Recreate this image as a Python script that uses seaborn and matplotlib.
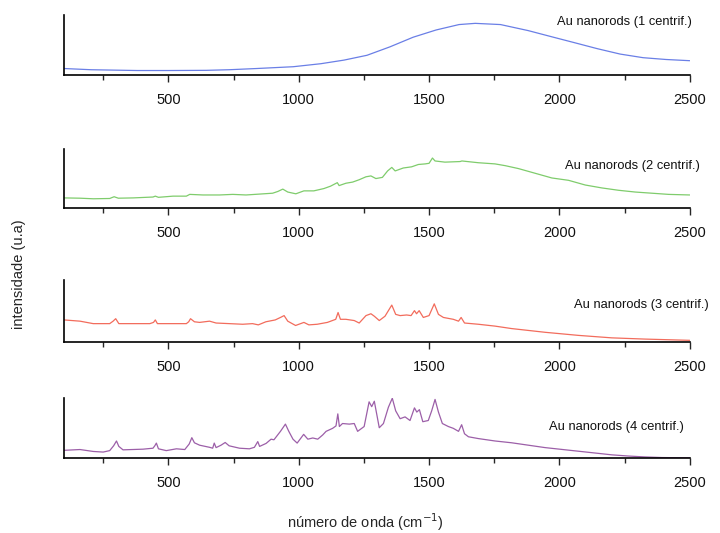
import seaborn as sns
import matplotlib.pyplot as plt
import pandas as pd

# spectra (intensity in arbitrary units, 0 = baseline of each panel)
x1 = [100, 204, 380, 500, 645, 733, 838, 979, 1085, 1174, 1262, 1350, 1439, 1527, 1615,
      1677, 1774, 1880, 1968, 2057, 2145, 2233, 2321, 2409, 2500]
y1 = [0.11, 0.09, 0.077, 0.077, 0.08, 0.09, 0.11, 0.14, 0.19, 0.25, 0.33, 0.47, 0.63, 0.75, 0.84,
      0.86, 0.84, 0.74, 0.64, 0.54, 0.44, 0.35, 0.29, 0.26, 0.24]

x2 = [100, 161, 212, 275, 292, 308, 365, 441, 450, 462, 518, 569, 582, 633, 696, 747, 798, 849,
      900, 920, 939, 958, 989, 1020, 1058, 1097, 1122, 1148, 1155, 1181, 1207, 1232, 1258, 1277,
      1296, 1321, 1341, 1357, 1370, 1401, 1433, 1459, 1485, 1500, 1513, 1523, 1561, 1619, 1626,
      1689, 1753, 1792, 1843, 1907, 1971, 2035, 2099, 2163, 2227, 2291, 2355, 2419, 2500]
y2 = [0.17, 0.165, 0.155, 0.16, 0.19, 0.165, 0.17, 0.185, 0.2, 0.18, 0.2, 0.2, 0.23, 0.22, 0.22,
      0.23, 0.22, 0.235, 0.25, 0.28, 0.32, 0.27, 0.24, 0.29, 0.29, 0.33, 0.37, 0.43, 0.38, 0.42,
      0.44, 0.48, 0.53, 0.545, 0.5, 0.52, 0.63, 0.69, 0.63, 0.68, 0.7, 0.74, 0.75, 0.76, 0.85,
      0.8, 0.78, 0.79, 0.8, 0.77, 0.75, 0.72, 0.67, 0.59, 0.51, 0.47, 0.39, 0.34, 0.3, 0.27,
      0.25, 0.23, 0.22]

x3 = [100, 161, 212, 275, 288, 298, 310, 365, 429, 443, 450, 458, 518, 569, 578, 585, 600, 620,
      658, 683, 734, 785, 823, 845, 874, 910, 930, 944, 958, 988, 1020, 1039, 1071, 1110, 1142,
      1151, 1160, 1181, 1213, 1232, 1258, 1277, 1290, 1309, 1331, 1357, 1372, 1389, 1414, 1431,
      1444, 1452, 1462, 1478, 1500, 1520, 1536, 1555, 1593, 1613, 1623, 1636, 1689, 1753, 1817,
      1881, 1945, 2009, 2073, 2137, 2201, 2329, 2500]
y3 = [0.36, 0.34, 0.3, 0.3, 0.34, 0.38, 0.3, 0.3, 0.3, 0.32, 0.36, 0.3, 0.3, 0.3, 0.33, 0.38,
      0.33, 0.32, 0.34, 0.31, 0.3, 0.29, 0.3, 0.28, 0.33, 0.36, 0.4, 0.43, 0.34, 0.27, 0.32, 0.28,
      0.29, 0.32, 0.37, 0.48, 0.37, 0.37, 0.35, 0.31, 0.43, 0.46, 0.42, 0.35, 0.42, 0.6, 0.45,
      0.43, 0.44, 0.43, 0.51, 0.46, 0.51, 0.4, 0.43, 0.62, 0.45, 0.4, 0.37, 0.34, 0.4, 0.31, 0.29,
      0.26, 0.22, 0.19, 0.16, 0.135, 0.11, 0.09, 0.07, 0.05, 0.03]

x4 = [100, 161, 212, 250, 275, 290, 301, 310, 326, 403, 441, 448, 454, 462, 492, 531, 563, 580,
      590, 600, 620, 658, 670, 676, 683, 702, 718, 733, 773, 811, 830, 843, 850, 875, 894, 905,
      930, 949, 962, 978, 994, 1007, 1019, 1035, 1054, 1073, 1092, 1105, 1130, 1143, 1150, 1156,
      1168, 1194, 1213, 1226, 1251, 1270, 1280, 1290, 1309, 1325, 1344, 1359, 1372, 1389, 1408,
      1427, 1444, 1453, 1463, 1476, 1497, 1510, 1523, 1536, 1551, 1574, 1593, 1613, 1625, 1636,
      1651, 1689, 1753, 1817, 1881, 1945, 2009, 2073, 2137, 2201, 2265, 2329, 2393, 2500]
y4 = [0.125, 0.138, 0.106, 0.096, 0.12, 0.2, 0.28, 0.19, 0.133, 0.144, 0.16, 0.2, 0.245, 0.15,
      0.12, 0.15, 0.138, 0.23, 0.335, 0.25, 0.21, 0.175, 0.16, 0.245, 0.17, 0.21, 0.255, 0.2,
      0.16, 0.15, 0.175, 0.27, 0.19, 0.24, 0.31, 0.3, 0.44, 0.56, 0.44, 0.31, 0.245, 0.32, 0.39,
      0.31, 0.33, 0.31, 0.38, 0.44, 0.49, 0.53, 0.73, 0.52, 0.57, 0.56, 0.57, 0.44, 0.52, 0.93,
      0.85, 0.94, 0.5, 0.57, 0.84, 0.99, 0.78, 0.65, 0.68, 0.62, 0.83, 0.76, 0.8, 0.6, 0.62, 0.78,
      0.97, 0.76, 0.57, 0.52, 0.49, 0.44, 0.55, 0.4, 0.35, 0.32, 0.28, 0.25, 0.21, 0.17, 0.14,
      0.11, 0.08, 0.05, 0.03, 0.015, 0.005, 0.0]

labels = ["Au nanorods (1 centrif.)", "Au nanorods (2 centrif.)",
          "Au nanorods (3 centrif.)", "Au nanorods (4 centrif.)"]
colors = ["#6a7fe6", "#7fcc6c", "#f26c5c", "#9c5fa8"]
xticks = [500, 1000, 1500, 2000, 2500]
minor_ticks = [250, 750, 1250, 1750, 2250]

sns.set_style("ticks")
plt.rcParams["font.family"] = ["Liberation Sans", "DejaVu Sans"]

fig = plt.figure(figsize=(7.2, 5.33), dpi=100)

# panel boxes (left, bottom, width, height) in figure fraction
boxes = [(0.089, 0.859, 0.869, 0.113),
         (0.089, 0.610, 0.869, 0.110),
         (0.089, 0.358, 0.869, 0.116),
         (0.089, 0.141, 0.869, 0.113)]
label_pos = [(0.788, 0.88), (0.80, 0.71), (0.815, 0.6), (0.775, 0.52)]

series = [(x1, y1), (x2, y2), (x3, y3), (x4, y4)]
for i, (xs, ys) in enumerate(series):
    ax = fig.add_axes(boxes[i])
    df = pd.DataFrame({"wavenumber": xs, "intensity": ys})
    sns.lineplot(data=df, x="wavenumber", y="intensity", color=colors[i], linewidth=0.9, ax=ax)
    ax.set_xlim(100, 2500)
    ax.set_ylim(0, 1)
    ax.set_xticks(xticks)
    ax.set_xticks(minor_ticks, minor=True)
    ax.set_yticks([])
    ax.set_xlabel("")
    ax.set_ylabel("")
    ax.tick_params(axis="x", which="major", direction="out", length=5, width=1, pad=8,
                   labelsize=10.5, labelcolor="#111111")
    ax.tick_params(axis="x", which="minor", direction="out", length=3.5, width=1)
    for side in ["top", "right"]:
        ax.spines[side].set_visible(False)
    for side in ["left", "bottom"]:
        ax.spines[side].set_linewidth(1.2)
        ax.spines[side].set_color("black")
    ax.text(label_pos[i][0], label_pos[i][1], labels[i], transform=ax.transAxes,
            ha="left", va="center", fontsize=9.3, color="#111111", clip_on=False)

fig.text(0.027, 0.485, "intensidade (u.a)", rotation=90, ha="center", va="center", fontsize=10.5)
fig.text(0.507, 0.02, "número de onda (cm$^{-1}$)", ha="center", va="center", fontsize=10.5)

plt.savefig("out.png", dpi=100)
